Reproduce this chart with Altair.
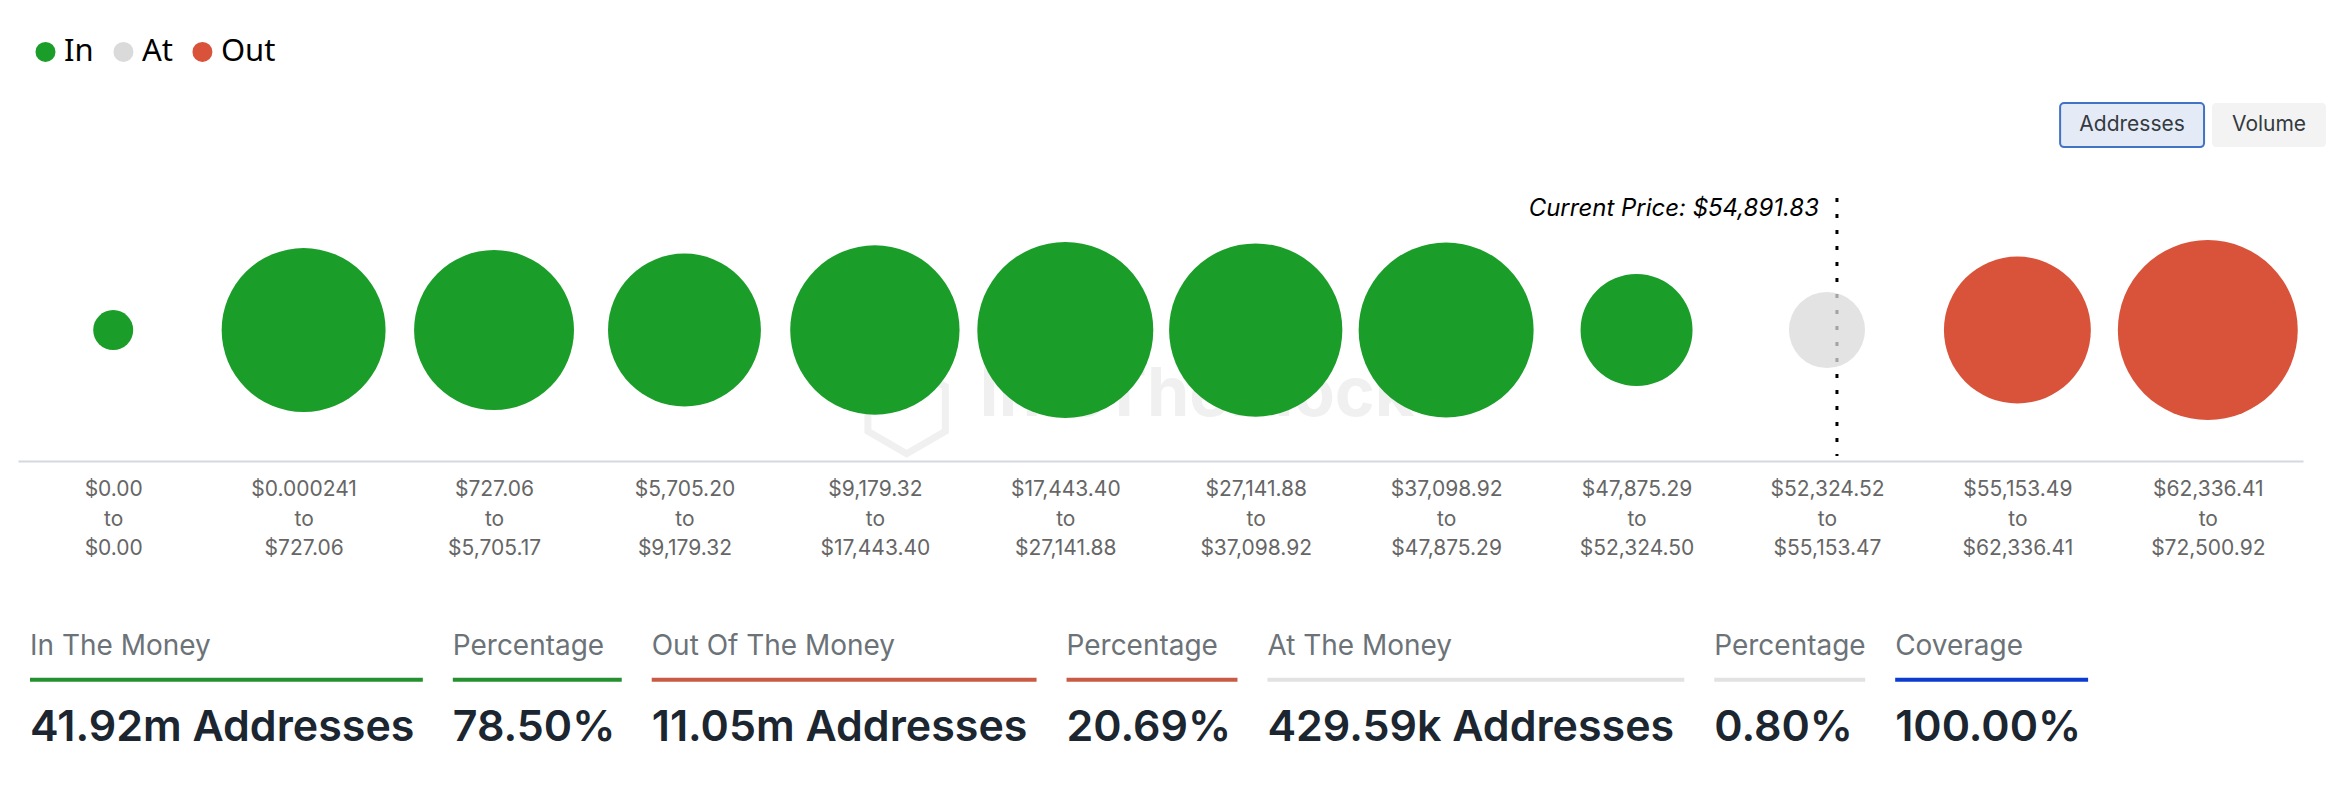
import altair as alt
import pandas as pd

# ---------------- data ----------------
bin_low = ["$0.00", "$0.000241", "$727.06", "$5,705.20", "$9,179.32", "$17,443.40",
           "$27,141.88", "$37,098.92", "$47,875.29", "$52,324.52", "$55,153.49", "$62,336.41"]
bin_high = ["$0.00", "$727.06", "$5,705.17", "$9,179.32", "$17,443.40", "$27,141.88",
            "$37,098.92", "$47,875.29", "$52,324.50", "$55,153.47", "$62,336.41", "$72,500.92"]
bin_status = ["In", "In", "In", "In", "In", "In", "In", "In", "In", "At", "Out", "Out"]
# addresses per price bin, millions
bin_addresses_m = [0.32, 5.38, 5.12, 4.68, 5.74, 6.20, 6.01, 6.13, 2.51, 1.16, 4.32, 6.48]

current_price_text = "Current Price: $54,891.83"
current_bin_index = 9

summary_headers = ["In The Money", "Percentage", "Out Of The Money", "Percentage",
                   "At The Money", "Percentage", "Coverage"]
summary_values = ["41.92m Addresses", "78.50%", "11.05m Addresses", "20.69%",
                  "429.59k Addresses", "0.80%", "100.00%"]
summary_groups = ["In", "In", "Out", "Out", "At", "At", "Coverage"]

buttons = ["Addresses", "Volume"]

# ---------------- styles ----------------
GREEN, GRAY, RED = "#1a9e29", "#dadada", "#d9523a"
LINE_COLORS = {"In": "#24902f", "Out": "#c95a43", "At": "#e2e2e2", "Coverage": "#0b3ccf"}
PANEL_WIDTHS = [393, 169, 385, 171, 417, 151, 193]
FONT = "Inter"
MAX_DIAMETER = 180
WATERMARK = "#f0f0f0"
HEXAGON = "M0,-1L0.866,-0.5L0.866,0.5L0,1L-0.866,0.5L-0.866,-0.5Z"

bin_labels = [f"{lo}\nto\n{hi}" for lo, hi in zip(bin_low, bin_high)]
df = pd.DataFrame({"bin": bin_labels, "status": bin_status, "addresses_m": bin_addresses_m})

X = alt.X(
    "bin:N",
    sort=bin_labels,
    scale=alt.Scale(type="point", domain=bin_labels, padding=0.5),
    axis=alt.Axis(
        title=None, labelAngle=0, labelExpr="split(datum.label, '\\n')",
        labelFontSize=21, labelFont=FONT, labelColor="#666666", labelLineHeight=29.5,
        labelPadding=18, labelBaseline="top", ticks=False, grid=False,
        domainColor="#d3d9de", domainWidth=2, labelOverlap=False, labelFlush=False,
    ),
)

one = pd.DataFrame({"bin": [bin_labels[current_bin_index]], "label": [current_price_text]})

watermark = alt.Chart(one).mark_text(
    align="left", baseline="middle", fontSize=68, fontWeight="bold", font=FONT, color=WATERMARK
).encode(x=alt.value(962), y=alt.value(388), text=alt.value("IntoTheBlock"))

watermark_logo = alt.Chart(one).mark_point(
    shape=HEXAGON, filled=False, stroke=WATERMARK, strokeWidth=7, size=8000, opacity=1
).encode(x=alt.value(889), y=alt.value(401))

price_rule = alt.Chart(one).mark_rule(
    color="black", strokeWidth=3, strokeDash=[4, 12], xOffset=10
).encode(x=X, y=alt.value(190), y2=alt.value(448))

circles = alt.Chart(df).mark_circle(stroke=None).encode(
    x=X,
    y=alt.value(322),
    size=alt.Size("addresses_m:Q",
                  scale=alt.Scale(domain=[0, max(bin_addresses_m)],
                                  range=[0, MAX_DIAMETER * MAX_DIAMETER]),
                  legend=None),
    color=alt.Color(
        "status:N",
        scale=alt.Scale(domain=["In", "At", "Out"], range=[GREEN, GRAY, RED]),
        legend=alt.Legend(
            orient="none", legendX=12, legendY=28, direction="horizontal", title=None,
            symbolType="circle", symbolSize=400, symbolStrokeWidth=0, symbolOpacity=1,
            labelFontSize=31, labelFont="Noto Sans", labelColor="#000000",
            labelOffset=3, columnPadding=14, padding=0,
        ),
    ),
    opacity=alt.condition(alt.datum.status == "At", alt.value(0.75), alt.value(1.0)),
)

price_text = alt.Chart(one).mark_text(
    align="right", baseline="middle", fontStyle="italic", fontSize=24, font=FONT,
    color="#000000", xOffset=10, dx=-18
).encode(x=X, y=alt.value(201), text="label:N")

btn_df = pd.DataFrame({"b": buttons})
btn1 = alt.Chart(btn_df.iloc[[0]]).mark_rect(
    fill="#e5ebf6", stroke="#4272c4", strokeWidth=2, cornerRadius=4
).encode(x=alt.value(2043), x2=alt.value(2187), y=alt.value(95), y2=alt.value(139))
btn1_t = alt.Chart(btn_df.iloc[[0]]).mark_text(
    fontSize=21, font=FONT, color="#343a40", baseline="middle"
).encode(x=alt.value(2115), y=alt.value(117), text="b:N")
btn2 = alt.Chart(btn_df.iloc[[1]]).mark_rect(
    fill="#f3f3f3", cornerRadius=4
).encode(x=alt.value(2195), x2=alt.value(2309), y=alt.value(95), y2=alt.value(139))
btn2_t = alt.Chart(btn_df.iloc[[1]]).mark_text(
    fontSize=21, font=FONT, color="#343a40", baseline="middle"
).encode(x=alt.value(2252), y=alt.value(117), text="b:N")

top = alt.layer(watermark, watermark_logo, price_rule, circles, price_text,
                btn1, btn1_t, btn2, btn2_t).properties(width=2286, height=453)

# ---------------- summary panels ----------------
Y_H, Y_L, Y_V, PH = 68, 101, 149, 180


def panel(h, v, g, w):
    d = pd.DataFrame({"h": [h], "v": [v]})
    base = alt.Chart(d)
    header = base.mark_text(align="left", baseline="middle", fontSize=28, font=FONT,
                            color="#6c7378").encode(x=alt.value(12), y=alt.value(Y_H), text="h:N")
    line = base.mark_rule(strokeWidth=4, color=LINE_COLORS[g]).encode(
        x=alt.value(12), x2=alt.value(12 + w), y=alt.value(Y_L))
    value = base.mark_text(align="left", baseline="middle", fontSize=43, fontWeight=600,
                           font=FONT, color="#1c2630").encode(
        x=alt.value(12), y=alt.value(Y_V), text="v:N")
    return alt.layer(header, line, value).properties(width=w, height=PH)


bottom = alt.hconcat(*[panel(h, v, g, w) for h, v, g, w in
                       zip(summary_headers, summary_values, summary_groups, PANEL_WIDTHS)],
                     spacing=30, bounds="flush")

chart = alt.vconcat(top, bottom, spacing=20).properties(
    padding={"left": 10, "top": 0, "right": 0, "bottom": 0},
    background="white",
).configure_view(stroke=None)

chart.save("out.html", embed_options={"renderer": "svg", "actions": False})
